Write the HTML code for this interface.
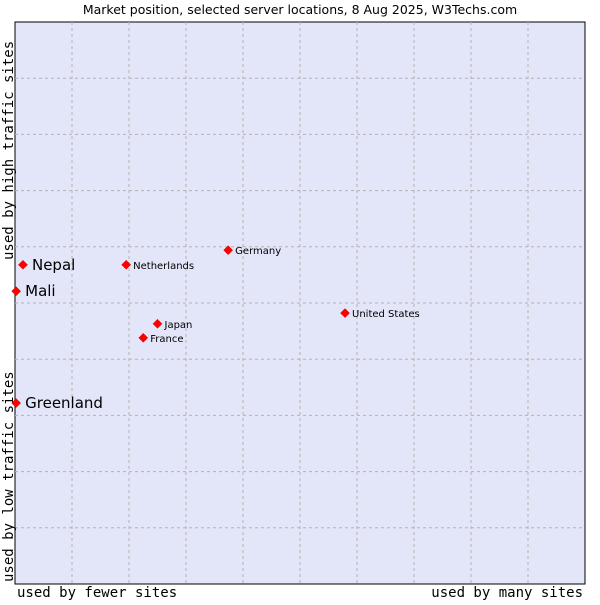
<!DOCTYPE html>
<html><head><meta charset="utf-8"><style>
body{margin:0;background:#fff;}
svg text{font-family:"DejaVu Sans","Liberation Sans",sans-serif;}
svg text.mono{font-family:"DejaVu Sans Mono","Liberation Mono",monospace;}
</style></head><body>
<svg id="chart" width="600" height="600">
<text x="300" y="14" text-anchor="middle" font-size="12.5" fill="#000">Market position, selected server locations, 8 Aug 2025, W3Techs.com</text>
<rect x="15" y="22" width="570" height="562" fill="#e3e5f8" stroke="#000" stroke-width="1"/>
<g id="grid"></g>
<text class="mono" x="17" y="597" font-size="14">used by fewer sites</text>
<text class="mono" x="583" y="597" text-anchor="end" font-size="14">used by many sites</text>
<text class="mono" transform="translate(13,260) rotate(-90)" font-size="14">used by high traffic sites</text>
<text class="mono" transform="translate(13,582) rotate(-90)" font-size="14">used by low traffic sites</text>
<g id="points"></g>
</svg>
<script>
const labels=["Nepal","Mali","Greenland","Netherlands","Germany","United States","Japan","France"];
const xValues=[1.4,0.2,0.2,19.5,37.4,57.9,25,22.5];
const yValues=[56.8,52.1,32.2,56.8,59.4,48.2,46.3,43.8];
const bigLabel=[true,true,true,false,false,false,false,false];
const L=15,T=22,W=570,H=562;
const sx=v=>L+v/100*W, sy=v=>T+H-v/100*H;
const ns="http://www.w3.org/2000/svg";
const grid=document.getElementById('grid'), pts=document.getElementById('points');
for(let i=1;i<10;i++){
  const x=document.createElementNS(ns,'line');
  
  
  x.setAttribute('x1',sx(i*10));x.setAttribute('x2',sx(i*10));x.setAttribute('y1',T);x.setAttribute('y2',T+H);
  x.setAttribute('stroke','#b4b4b4');x.setAttribute('stroke-dasharray','3,3');grid.appendChild(x);
  const y=document.createElementNS(ns,'line');
  
  
  y.setAttribute('y1',sy(i*10));y.setAttribute('y2',sy(i*10));y.setAttribute('x1',L);y.setAttribute('x2',L+W);
  y.setAttribute('stroke','#b4b4b4');y.setAttribute('stroke-dasharray','3,3');grid.appendChild(y);
}
labels.forEach((n,i)=>{
  const cx=sx(xValues[i]),cy=sy(yValues[i]);
  const p=document.createElementNS(ns,'polygon');
  
  
  p.setAttribute('points',`${cx},${cy-4.5} ${cx+4.5},${cy} ${cx},${cy+4.5} ${cx-4.5},${cy}`);
  p.setAttribute('fill','#f00');p.setAttribute('stroke','#c00');p.setAttribute('stroke-width','0.5');pts.appendChild(p);
  const t=document.createElementNS(ns,'text');
  
  
  t.setAttribute('x',cx+(bigLabel[i]?9:7));t.setAttribute('y',cy+(bigLabel[i]?5:4));
  t.setAttribute('font-size',bigLabel[i]?'15':'10');t.textContent=n;pts.appendChild(t);
});
</script>
</body></html>
